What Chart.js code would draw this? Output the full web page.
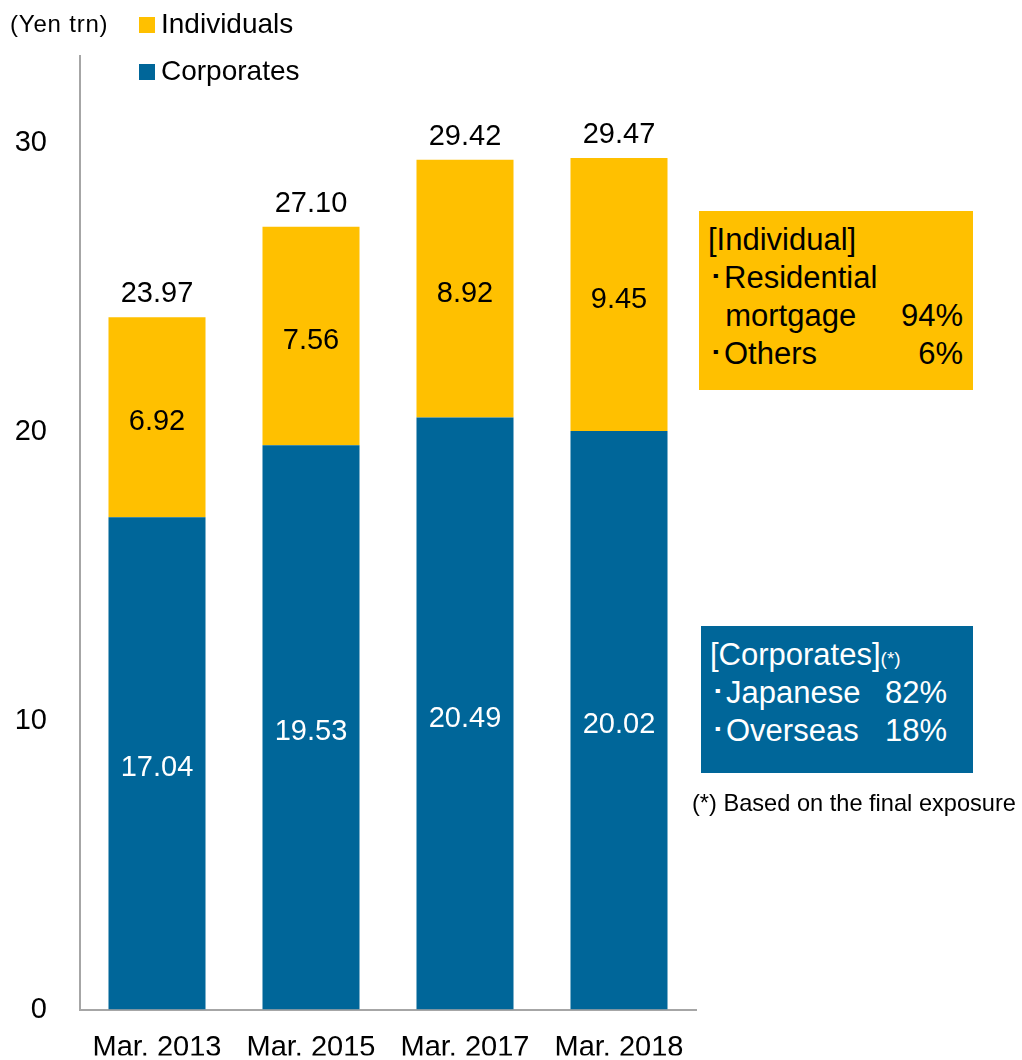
<!DOCTYPE html>
<html>
<head>
<meta charset="utf-8">
<script src="https://cdn.jsdelivr.net/npm/chart.js@4"></script>
<style>
  body { margin: 0; background: #fff; font-family: "Liberation Sans", Arial, sans-serif; overflow: hidden; }
  #wrap { position: relative; width: 1022px; height: 1060px; }
  #chart { position: absolute; left: 0; top: 0; }
  .txt { position: absolute; white-space: nowrap; line-height: 1; }
  .unit { left: 10px; top: 12px; font-size: 24px; color: #000; letter-spacing: 0.8px; }
  .leg { font-size: 28px; color: #000; }
  .sw { position: absolute; width: 16px; height: 16px; }
  .box { position: absolute; box-sizing: border-box; padding: 10px 10px 0 9px; }
  .box .row { display: flex; justify-content: space-between; font-size: 31px; line-height: 38px; height: 38px; }
  .ind { left: 699px; top: 211px; width: 274px; height: 179px; background: #FFC000; color: #000; }
  .corp { left: 701px; top: 626px; width: 272px; height: 147px; background: #006699; color: #fff; padding-right: 26px; }
  .note { left: 692px; top: 792px; font-size: 23.6px; color: #000; }
</style>
</head>
<body>
<div id="wrap">
  <canvas id="chart" width="1022" height="1060"></canvas>

  <div class="txt unit">(Yen trn)</div>
  <div class="sw" style="left:139px; top:17px; background:#FFC000;"></div>
  <div class="txt leg" style="left:161px; top:10px;">Individuals</div>
  <div class="sw" style="left:139px; top:64px; background:#006699;"></div>
  <div class="txt leg" style="left:161px; top:57px;">Corporates</div>

  <div class="box ind">
    <div class="row"><span>[Individual]</span></div>
    <div class="row"><span>･Residential</span></div>
    <div class="row"><span>&nbsp;&nbsp;mortgage</span><span>94%</span></div>
    <div class="row"><span>･Others</span><span>6%</span></div>
  </div>

  <div class="box corp">
    <div class="row"><span>[Corporates]<span style="font-size:19px;">(*)</span></span></div>
    <div class="row"><span>･Japanese</span><span>82%</span></div>
    <div class="row"><span>･Overseas</span><span>18%</span></div>
  </div>

  <div class="txt note">(*) Based on the final exposure</div>
</div>

<script>
const categories = ["Mar. 2013", "Mar. 2015", "Mar. 2017", "Mar. 2018"];
const corporates = [17.04, 19.53, 20.49, 20.02];
const individuals = [6.92, 7.56, 8.92, 9.45];
const totals = [23.97, 27.10, 29.42, 29.47];
const yTicks = [0, 10, 20, 30];

const BLUE = "#006699";
const ORANGE = "#FFC000";
const FONT = "Liberation Sans, Arial, sans-serif";

// value labels inside segments and totals over each stack
const valueLabels = {
    id: "valueLabels",
    afterDatasetsDraw(chart) {
        const ctx = chart.ctx;
        ctx.save();
        ctx.font = "29px " + FONT;
        ctx.textAlign = "center";
        ctx.textBaseline = "middle";
        chart.data.datasets.forEach((ds, di) => {
            const meta = chart.getDatasetMeta(di);
            meta.data.forEach((bar, i) => {
                ctx.fillStyle = di === 0 ? "#fff" : "#000";
                ctx.fillText(ds.data[i].toFixed(2), bar.x, (bar.y + bar.base) / 2 + 5);
            });
        });
        const top = chart.getDatasetMeta(chart.data.datasets.length - 1);
        ctx.fillStyle = "#000";
        top.data.forEach((bar, i) => {
            ctx.fillText(totals[i].toFixed(2), bar.x, bar.y - 23);
        });
        ctx.restore();
    }
};

const data = {
    labels: categories,
    datasets: [
        {
            label: "Corporates",
            data: corporates,
            backgroundColor: BLUE,
            barPercentage: 0.63,
            categoryPercentage: 1.0,
        },
        {
            label: "Individuals",
            data: individuals,
            backgroundColor: ORANGE,
            barPercentage: 0.63,
            categoryPercentage: 1.0,
        },
    ],
};

const config = {
    type: "bar",
    data: data,
    options: {
        responsive: false,
        animation: false,
        layout: { padding: { top: 56, right: 326, bottom: 0, left: 0 } },
        plugins: {
            legend: { display: false },
            tooltip: { enabled: false },
        },
        scales: {
            x: {
                stacked: true,
                grid: { display: false, drawTicks: false },
                border: { color: "#a6a6a6", width: 2 },
                ticks: { color: "#000", font: { family: FONT, size: 29 }, padding: 21, maxRotation: 0 },
                afterFit(scale) { scale.height = 46; },
            },
            y: {
                stacked: true,
                min: 0,
                max: 33,
                grid: { display: false, drawTicks: false },
                border: { color: "#a6a6a6", width: 2 },
                afterBuildTicks(scale) { scale.ticks = yTicks.map(v => ({ value: v })); },
                ticks: { color: "#000", font: { family: FONT, size: 29 }, padding: 33 },
                afterFit(scale) { scale.width = 80; },
            },
        },
    },
    plugins: [valueLabels],
};

window.myChart = new Chart(document.getElementById("chart"), config);
</script>
</body>
</html>
